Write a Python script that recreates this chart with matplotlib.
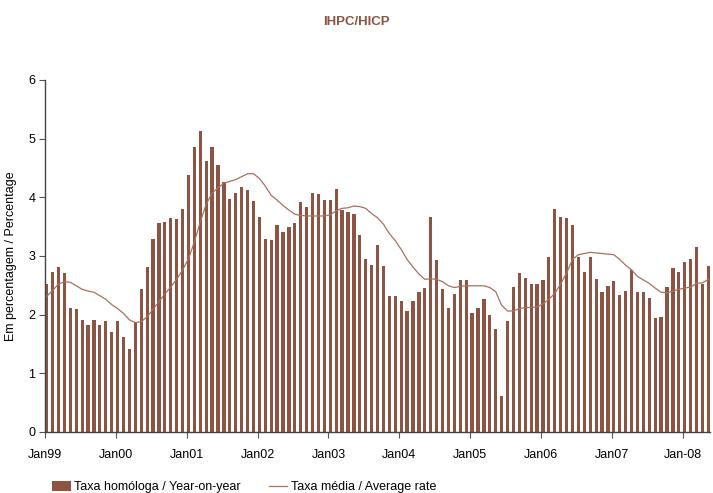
import numpy as np
import matplotlib
matplotlib.use("Agg")
import matplotlib.pyplot as plt

plt.rcParams['font.family'] = ['Liberation Sans', 'DejaVu Sans']

# taxa homologa (mensal, Jan99 - Mai08)
taxa_homologa = [
    2.52, 2.72, 2.81, 2.70, 2.11, 2.09, 1.90, 1.82, 1.90, 1.82, 1.89, 1.70,
    1.89, 1.61, 1.41, 1.87, 2.43, 2.81, 3.28, 3.56, 3.57, 3.64, 3.63, 3.80,
    4.38, 4.85, 5.13, 4.61, 4.85, 4.55, 4.26, 3.97, 4.07, 4.17, 4.12, 3.93,
    3.66, 3.28, 3.27, 3.52, 3.40, 3.49, 3.56, 3.91, 3.83, 4.07, 4.05, 3.95,
    3.95, 4.14, 3.78, 3.74, 3.71, 3.35, 2.94, 2.84, 3.18, 2.82, 2.31, 2.31,
    2.23, 2.06, 2.23, 2.38, 2.45, 3.66, 2.93, 2.43, 2.11, 2.35, 2.59, 2.59,
    2.02, 2.11, 2.26, 1.99, 1.75, 0.61, 1.89, 2.47, 2.70, 2.62, 2.52, 2.52,
    2.59, 2.98, 3.80, 3.66, 3.64, 3.52, 2.98, 2.72, 2.98, 2.60, 2.38, 2.48,
    2.57, 2.33, 2.40, 2.76, 2.38, 2.38, 2.28, 1.94, 1.95, 2.47, 2.79, 2.72,
    2.89, 2.94, 3.15, 2.52, 2.82,
]

# taxa media (12 meses)
taxa_media = [
    2.31, 2.41, 2.52, 2.56, 2.55, 2.49, 2.43, 2.40, 2.38, 2.32, 2.26, 2.17,
    2.10, 2.02, 1.91, 1.86, 1.88, 1.96, 2.09, 2.22, 2.35, 2.47, 2.60, 2.76,
    2.95, 3.24, 3.58, 3.88, 4.07, 4.16, 4.24, 4.27, 4.30, 4.35, 4.40, 4.40,
    4.32, 4.19, 4.03, 3.95, 3.86, 3.78, 3.71, 3.69, 3.68, 3.68, 3.68, 3.68,
    3.70, 3.77, 3.81, 3.82, 3.85, 3.84, 3.81, 3.72, 3.65, 3.54, 3.38, 3.26,
    3.11, 2.94, 2.81, 2.69, 2.60, 2.61, 2.60, 2.56, 2.49, 2.46, 2.48, 2.49,
    2.49, 2.49, 2.49, 2.46, 2.39, 2.16, 2.06, 2.06, 2.10, 2.12, 2.12, 2.13,
    2.18, 2.26, 2.36, 2.52, 2.71, 2.94, 3.02, 3.04, 3.06, 3.05, 3.04, 3.03,
    3.02, 2.94, 2.84, 2.76, 2.65, 2.59, 2.53, 2.45, 2.38, 2.37, 2.40, 2.43,
    2.45, 2.47, 2.53, 2.54, 2.60,
]

anos = ["Jan99", "Jan00", "Jan01", "Jan02", "Jan03", "Jan04", "Jan05",
        "Jan06", "Jan07", "Jan-08"]

cor_barra = "#8E5443"
cor_linha = "#A8705F"

fig = plt.figure(figsize=(7.13, 4.93), dpi=100)
ax = fig.add_axes([0.063, 0.124, 0.933, 0.714])

x = np.arange(len(taxa_homologa))
barras = ax.bar(x, taxa_homologa, width=0.55, color=cor_barra)
linha, = ax.plot(x, taxa_media, color=cor_linha, lw=0.9)

ax.set_xlim(-0.3, len(x) - 0.7)
ax.set_ylim(0, 6)
ax.set_yticks(range(0, 7))
ax.set_xticks(np.arange(len(anos)) * 12 - 0.3)
ax.set_xticklabels(anos)
ax.tick_params(axis="both", labelsize=9, length=4, color="#555555", pad=8)
ax.tick_params(axis="y", pad=3)

for s in ["top", "right"]:
    ax.spines[s].set_visible(False)
for s in ["left", "bottom"]:
    ax.spines[s].set_color("#444444")
    ax.spines[s].set_linewidth(1)

ax.set_ylabel("Em percentagem / Percentage", fontsize=9, labelpad=8)

fig.text(0.5, 0.955, "IHPC/HICP", ha="center", va="center", fontsize=9.5,
         fontweight="bold", color=cor_barra)

fig.legend([barras, linha], ["Taxa homóloga / Year-on-year", "Taxa média / Average rate"],
           loc="center left", bbox_to_anchor=(52 / 713, 6 / 493), ncol=2, frameon=False,
           fontsize=9, handlelength=1.5, handleheight=0.8, columnspacing=2.2,
           handletextpad=0.3, borderpad=0, borderaxespad=0)

fig.savefig("out.png", dpi=100)
